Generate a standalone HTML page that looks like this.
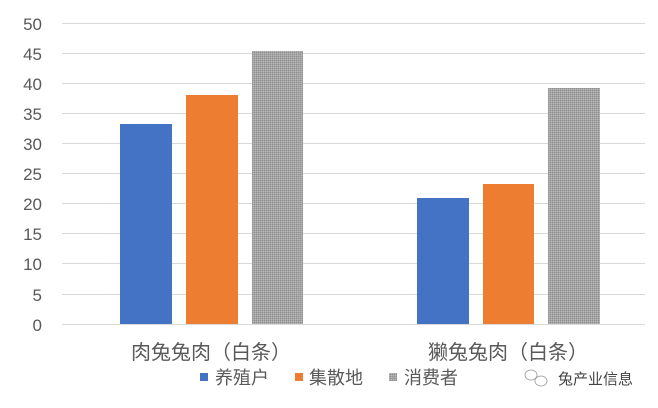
<!DOCTYPE html>
<html><head><meta charset="utf-8"><style>
html,body{margin:0;padding:0;background:#fff;}
svg{display:block;font-family:"Liberation Sans","Noto Sans CJK SC",sans-serif;}
</style></head><body>
<svg width="658" height="408" viewBox="0 0 658 408" xmlns="http://www.w3.org/2000/svg">
<defs>
<pattern id="g" width="2" height="2" patternUnits="userSpaceOnUse">
<rect width="2" height="2" fill="#a5a5a5"/><rect width="1" height="1" fill="#8f8f8f"/><rect x="1" y="1" width="1" height="1" fill="#b8b8b8"/>
</pattern>
</defs>
<g stroke="#d9d9d9" stroke-width="1">
<line x1="62" y1="23.5" x2="645" y2="23.5"/>
<line x1="62" y1="53.5" x2="645" y2="53.5"/>
<line x1="62" y1="83.5" x2="645" y2="83.5"/>
<line x1="62" y1="113.5" x2="645" y2="113.5"/>
<line x1="62" y1="143.5" x2="645" y2="143.5"/>
<line x1="62" y1="173.5" x2="645" y2="173.5"/>
<line x1="62" y1="203.5" x2="645" y2="203.5"/>
<line x1="62" y1="233.5" x2="645" y2="233.5"/>
<line x1="62" y1="263.5" x2="645" y2="263.5"/>
<line x1="62" y1="294.5" x2="645" y2="294.5"/>
<line x1="62" y1="324.5" x2="645" y2="324.5"/>
</g>
<g font-size="17" fill="#595959" text-anchor="end">
<text x="42" y="30">50</text><text x="42" y="60">45</text><text x="42" y="90">40</text>
<text x="42" y="120">35</text><text x="42" y="150">30</text><text x="42" y="180">25</text>
<text x="42" y="210">20</text><text x="42" y="240">15</text><text x="42" y="270">10</text>
<text x="42" y="301">5</text><text x="42" y="331">0</text>
</g>
<rect x="120" y="124" width="52" height="200" fill="#4472c4"/>
<rect x="186" y="95" width="52" height="229" fill="#ed7d31"/>
<rect x="252" y="51" width="51" height="273" fill="url(#g)"/>
<rect x="417" y="198" width="52" height="126" fill="#4472c4"/>
<rect x="483" y="184" width="51" height="140" fill="#ed7d31"/>
<rect x="548" y="88" width="52" height="236" fill="url(#g)"/>
<g font-size="20" fill="#595959" text-anchor="middle">
<text x="211" y="359">肉兔兔肉（白条）</text>
<text x="508" y="359">獭兔兔肉（白条）</text>
</g>
<rect x="200" y="373" width="8" height="8" fill="#4472c4"/>
<rect x="295" y="373" width="8" height="8" fill="#ed7d31"/>
<rect x="389" y="373" width="8" height="8" fill="url(#g)"/>
<g font-size="18" fill="#595959">
<text x="215" y="384">养殖户</text>
<text x="309" y="384">集散地</text>
<text x="404" y="384">消费者</text>
</g>
<g fill="none" stroke="#999" stroke-width="0.8">
<ellipse cx="531" cy="375" rx="6" ry="5"/>
<ellipse cx="541" cy="381" rx="6" ry="5"/>
</g>
<text x="558" y="384" font-size="15" fill="#444">兔产业信息</text>
</svg>
</body></html>
